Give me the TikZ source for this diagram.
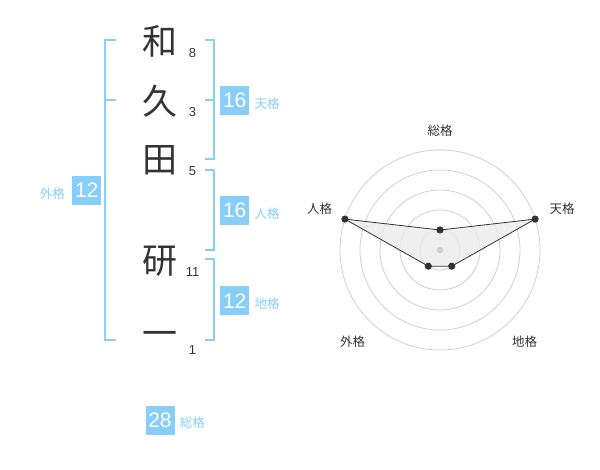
\documentclass[tikz,border=0pt]{standalone}
\usepackage{fontspec}
\setmainfont{Liberation Sans}
\newfontfamily\jpfont{Noto Sans CJK JP}
\usetikzlibrary{positioning}
\definecolor{sky}{RGB}{135,206,250}
\definecolor{ink}{RGB}{51,51,51}
\definecolor{ring}{RGB}{208,208,208}

\begin{document}
\begin{tikzpicture}[x=1pt,y=-1pt,
  kanji/.style={font=\jpfont\fontsize{35}{35}\selectfont,text=ink,inner sep=0pt},
  strokes/.style={font=\fontsize{13}{13}\selectfont,text=ink,inner sep=0pt},
  score/.style={fill=sky,text=white,minimum size=29pt,inner sep=0pt,font=\fontsize{21}{21}\selectfont},
  kaku/.style={font=\jpfont\fontsize{12.5}{12.5}\selectfont,text=sky,inner sep=0pt},
  axis/.style={font=\jpfont\fontsize{12.5}{12.5}\selectfont,text=ink,inner sep=0pt},
  brk/.style={draw=sky,line width=2pt}]
  \useasboundingbox (0,0) rectangle (600,470);
  % name and stroke counts
  \foreach \n/\k/\y/\s in {wa/和/41.5/8, hisa/久/101/3, ta/田/160/5, ken/研/261/11, ichi/一/339/1} {
    \node[kanji] (\n) at (159.5,\y) {\k};
    \node[strokes] (\n-s) at (192.5,\y+11.5) {\s};
  }
  % brackets
  \draw[brk] (116,40) -- (105,40) -- (105,340) -- (116,340);
  \draw[brk] (105,100) -- (116,100);
  \draw[brk] (205,40) -- (214,40) -- (214,159) -- (205,159);
  \draw[brk] (205,100) -- (214,100);
  \draw[brk] (205,170) -- (214,170) -- (214,250) -- (205,250);
  \draw[brk] (205,259) -- (214,259) -- (214,340) -- (205,340);
  % scores
  \node[score] (ten) at (234.7,100.5) {16};
  \node[kaku,right=5pt of ten,yshift=-3pt] (ten-l) {天格};
  \node[score] (jin) at (234.7,210.5) {16};
  \node[kaku,right=5pt of jin,yshift=-3pt] (jin-l) {人格};
  \node[score] (chi) at (234.7,301) {12};
  \node[kaku,right=5pt of chi,yshift=-3pt] (chi-l) {地格};
  \node[score] (gai) at (86.7,190.5) {12};
  \node[kaku,left=7pt of gai,yshift=-3pt] (gai-l) {外格};
  \node[score] (so) at (160,420) {28};
  \node[kaku,right=5pt of so,yshift=-3pt] (so-l) {総格};
  % radar chart
  \coordinate (c) at (440,250);
  \foreach \r in {20,40,...,100} \draw[ring,line width=0.8pt] (c) circle (\r pt);
  \foreach \n/\a/\r in {vso/90/20, vten/18/100, vchi/-54/20, vgai/-126/20, vjin/162/100}
    \path (c) ++(\a:\r pt) coordinate (\n);
  \filldraw[fill=black!8,fill opacity=0.8,draw=ink,line width=0.8pt]
    (vjin) -- (vso) -- (vten) -- (vchi) -- (vgai) -- cycle;
  \fill[ring] (c) circle (3.3pt);
  \foreach \n in {vso,vten,vchi,vgai,vjin} \fill[ink] (\n) circle (3.6pt);
  \node[axis] (a-so) at (440,131) {総格};
  \node[axis] (a-ten) at (562,209) {天格};
  \node[axis] (a-jin) at (319.5,209) {人格};
  \node[axis] (a-gai) at (352.5,342) {外格};
  \node[axis] (a-chi) at (524.5,342) {地格};
\end{tikzpicture}
\end{document}
